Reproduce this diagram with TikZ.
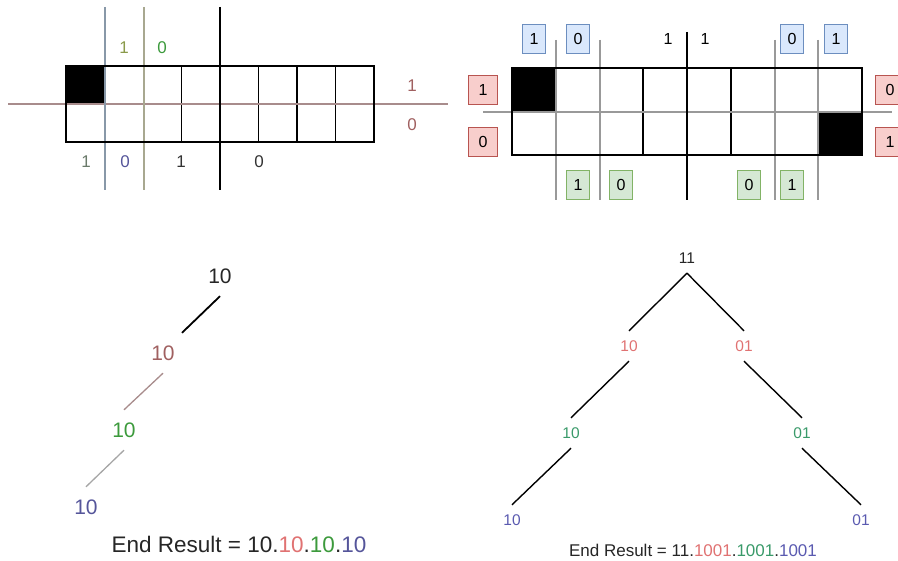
\documentclass[tikz,border=0pt]{standalone}
\usepackage{fontspec}
\setmainfont{Liberation Sans}
\definecolor{bleuF}{HTML}{DAE8FC}
\definecolor{bleuT}{HTML}{6C8EBF}
\definecolor{rougeF}{HTML}{F8CECC}
\definecolor{rougeT}{HTML}{B85450}
\definecolor{vertF}{HTML}{D5E8D4}
\definecolor{vertT}{HTML}{82B366}
\definecolor{olive}{HTML}{8A9A4A}
\definecolor{vertG}{HTML}{3C9A3C}
\definecolor{brique}{HTML}{A06060}
\definecolor{ligneR}{HTML}{A88C8C}
\definecolor{ligneB}{HTML}{8898A8}
\definecolor{ligneO}{HTML}{A8A890}
\definecolor{grisV}{HTML}{6A7A6A}
\definecolor{violet}{HTML}{55559A}
\definecolor{rougeC}{HTML}{E07272}
\definecolor{vertC}{HTML}{3A9A6A}
\definecolor{bleuC}{HTML}{5A5AB0}
\tikzset{
	lab/.style={font=\fontsize{17}{20}\selectfont,inner sep=1pt},
	boite/.style={draw=#1T,fill=#1F,line width=.8pt,minimum width=23pt,minimum height=29pt,inner sep=0pt,font=\fontsize{16}{19}\selectfont},
	arbreA/.style={font=\fontsize{21}{24}\selectfont,minimum height=40pt,inner sep=0pt},
	arbreB/.style={font=\fontsize{15.5}{18}\selectfont,minimum height=30pt,inner sep=0pt},
	bord/.style={line width=1.6pt},
	trait/.style={gray!80,line width=1.2pt}
}
\begin{document}
\begin{tikzpicture}[x=1pt,y=-1pt]
		\useasboundingbox (0,0) rectangle (898,561);
		% grille gauche
		\fill (66,66) rectangle (105,104);
		\foreach \k in {3,5,6,7}
			\draw[bord] ({66+38.5*\k},66) to ({66+38.5*\k},142);
		\draw[ligneR,line width=1.2pt] (8,104) to (448,104);
		\draw[ligneB,line width=1.2pt] (105,7) to (105,190);
		\draw[ligneO,line width=1.2pt] (144,7) to (144,190);
		\draw[bord] (220,7) to (220,190);
		\draw[bord] (66,66) rectangle (374,142);
		
		\node[lab,text=olive] (ga1) at (124,48) {1};
		\node[lab,text=vertG] (ga2) at (162,48) {0};
		\node[lab,text=brique] (gd1) at (412,86) {1};
		\node[lab,text=brique] (gd2) at (412,125) {0};
		\node[lab,text=grisV] (gb1) at (86,162) {1};
		\node[lab,text=violet] (gb2) at (125,162) {0};
		\node[lab,text=black!80] (gb3) at (181,162) {1};
		\node[lab,text=black!80] (gb4) at (259,162) {0};
		
		% grille droite
		\fill (512,68) rectangle (556,112);
		\fill (818,112) rectangle (862,155);
		\foreach \k in {3,5}
			\draw[bord] ({512+43.75*\k},68) to ({512+43.75*\k},155);
		\draw[trait] (483,112) to (892,112);
		\foreach \x in {556,600,775,818}
			\draw[trait] (\x,40) to (\x,200);
		\draw[bord] (687,32) to (687,200);
		\draw[bord] (512,68) rectangle (862,155);
		
		\foreach \x/\t [count=\i] in {534/1,578/0,792/0,836/1}
			\node[boite=bleu] (h\i) at (\x,39) {\t};
		\foreach \x/\t [count=\i] in {578/1,621/0,749/0,792/1}
			\node[boite=vert] (v\i) at (\x,185) {\t};
		\node[boite=rouge,minimum width=29pt] (r1) at (483,90) {1};
		\node[boite=rouge,minimum width=29pt] (r2) at (483,142) {0};
		\node[boite=rouge,minimum width=29pt] (r3) at (890,90) {0};
		\node[boite=rouge,minimum width=29pt] (r4) at (890,142) {1};
		\node[lab,font=\fontsize{16}{19}\selectfont] (m1) at (668,39) {1};
		\node[lab,font=\fontsize{16}{19}\selectfont] (m2) at (705,39) {1};
		
		% arbre gauche
		\node[arbreA,text=black!85] (a1) at (220,276) {10};
		\node[arbreA,text=brique] (a2) at (163,353) {10};
		\node[arbreA,text=vertG] (a3) at (124,430) {10};
		\node[arbreA,text=violet] (a4) at (86,507) {10};
		\draw[line width=1.8pt] (a1.south) to ([xshift=19pt]a2.north);
		\draw[ligneR,line width=1.3pt] (a2.south) to (a3.north);
		\draw[gray!70,line width=1.3pt] (a3.south) to (a4.north);
		\node[font=\fontsize{22.5}{26}\selectfont,text=black!85] (res1) at (239,544)
			{End Result = 10.\textcolor{rougeC}{10}.\textcolor{vertG}{10}.\textcolor{violet}{10}};
		
		% arbre droit
		\node[arbreB,text=black!85] (b1) at (687,258) {11};
		\node[arbreB,text=rougeC] (b2) at (629,346) {10};
		\node[arbreB,text=rougeC] (b3) at (744,346) {01};
		\node[arbreB,text=vertC] (b4) at (571,433) {10};
		\node[arbreB,text=vertC] (b5) at (802,433) {01};
		\node[arbreB,text=bleuC] (b6) at (512,520) {10};
		\node[arbreB,text=bleuC] (b7) at (861,520) {01};
		\foreach \p/\f in {b1/b2,b1/b3,b2/b4,b3/b5,b4/b6,b5/b7}
			\draw[line width=1.4pt] (\p.south) to (\f.north);
		\node[font=\fontsize{17}{20}\selectfont,text=black!85] (res2) at (693,550)
			{End Result = 11.\textcolor{rougeC}{1001}.\textcolor{vertC}{1001}.\textcolor{bleuC}{1001}};
		
	\end{tikzpicture}
\end{document}
